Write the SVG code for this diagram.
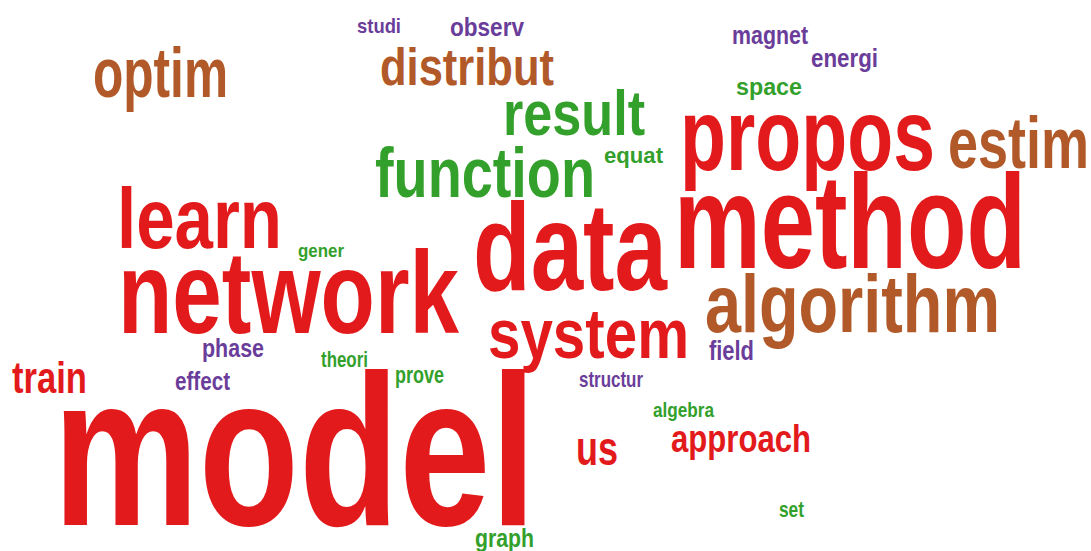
<svg xmlns="http://www.w3.org/2000/svg" width="1091" height="551" viewBox="0 0 1091 551">
<style>
text{font-family:"Liberation Sans Narrow","Liberation Sans",Arial,sans-serif;font-weight:bold}
.r{fill:#E31A1C}.b{fill:#B15928}.g{fill:#33A02C}.p{fill:#6A3D9A}
</style>
<rect width="1091" height="551" fill="#ffffff"/>
<g id="words">
<text id="model" class="r" x="53" y="525" font-size="215" textLength="483" lengthAdjust="spacingAndGlyphs">model</text>
<text id="method" class="r" x="674" y="268" font-size="134" textLength="352" lengthAdjust="spacingAndGlyphs">method</text>
<text id="data" class="r" x="473" y="290" font-size="124" textLength="194" lengthAdjust="spacingAndGlyphs">data</text>
<text id="network" class="r" x="118" y="333" font-size="117" textLength="341" lengthAdjust="spacingAndGlyphs">network</text>
<text id="propos" class="r" x="680" y="170" font-size="102" textLength="255" lengthAdjust="spacingAndGlyphs">propos</text>
<text id="learn" class="r" x="117" y="248" font-size="85" textLength="165" lengthAdjust="spacingAndGlyphs">learn</text>
<text id="system" class="r" x="488" y="358" font-size="70" textLength="201" lengthAdjust="spacingAndGlyphs">system</text>
<text id="algorithm" class="b" x="705" y="332" font-size="81" textLength="295" lengthAdjust="spacingAndGlyphs">algorithm</text>
<text id="function" class="g" x="375" y="197" font-size="70" textLength="220" lengthAdjust="spacingAndGlyphs">function</text>
<text id="result" class="g" x="503" y="135" font-size="63" textLength="142" lengthAdjust="spacingAndGlyphs">result</text>
<text id="estim" class="b" x="948" y="168" font-size="72" textLength="141" lengthAdjust="spacingAndGlyphs">estim</text>
<text id="distribut" class="b" x="380" y="85" font-size="51" textLength="174" lengthAdjust="spacingAndGlyphs">distribut</text>
<text id="optim" class="b" x="93" y="97" font-size="70" textLength="135" lengthAdjust="spacingAndGlyphs">optim</text>
<text id="approach" class="r" x="671" y="452" font-size="39" textLength="140" lengthAdjust="spacingAndGlyphs">approach</text>
<text id="train" class="r" x="12" y="393" font-size="44" textLength="75" lengthAdjust="spacingAndGlyphs">train</text>
<text id="us" class="r" x="576" y="465" font-size="48" textLength="42" lengthAdjust="spacingAndGlyphs">us</text>
<text id="studi" class="p" x="357" y="33" font-size="21" textLength="44" lengthAdjust="spacingAndGlyphs">studi</text>
<text id="observ" class="p" x="450" y="36" font-size="26" textLength="74" lengthAdjust="spacingAndGlyphs">observ</text>
<text id="magnet" class="p" x="732" y="44" font-size="26" textLength="76" lengthAdjust="spacingAndGlyphs">magnet</text>
<text id="energi" class="p" x="811" y="67" font-size="25" textLength="67" lengthAdjust="spacingAndGlyphs">energi</text>
<text id="space" class="g" x="736" y="95" font-size="23" textLength="66" lengthAdjust="spacingAndGlyphs">space</text>
<text id="equat" class="g" x="604" y="163" font-size="21.5" textLength="59" lengthAdjust="spacingAndGlyphs">equat</text>
<text id="gener" class="g" x="298" y="257" font-size="18" textLength="46" lengthAdjust="spacingAndGlyphs">gener</text>
<text id="phase" class="p" x="202" y="357" font-size="26" textLength="62" lengthAdjust="spacingAndGlyphs">phase</text>
<text id="theori" class="g" x="321" y="367" font-size="22.5" textLength="47" lengthAdjust="spacingAndGlyphs">theori</text>
<text id="effect" class="p" x="175" y="390" font-size="25" textLength="55" lengthAdjust="spacingAndGlyphs">effect</text>
<text id="prove" class="g" x="395" y="383" font-size="23" textLength="49" lengthAdjust="spacingAndGlyphs">prove</text>
<text id="structur" class="p" x="579" y="387" font-size="21.5" textLength="64" lengthAdjust="spacingAndGlyphs">structur</text>
<text id="field" class="p" x="709" y="360" font-size="27" textLength="45" lengthAdjust="spacingAndGlyphs">field</text>
<text id="algebra" class="g" x="653" y="417" font-size="20" textLength="61" lengthAdjust="spacingAndGlyphs">algebra</text>
<text id="set" class="g" x="779" y="517" font-size="21.5" textLength="25" lengthAdjust="spacingAndGlyphs">set</text>
<text id="graph" class="g" x="475" y="547" font-size="25" textLength="59" lengthAdjust="spacingAndGlyphs">graph</text>
</g>
</svg>
